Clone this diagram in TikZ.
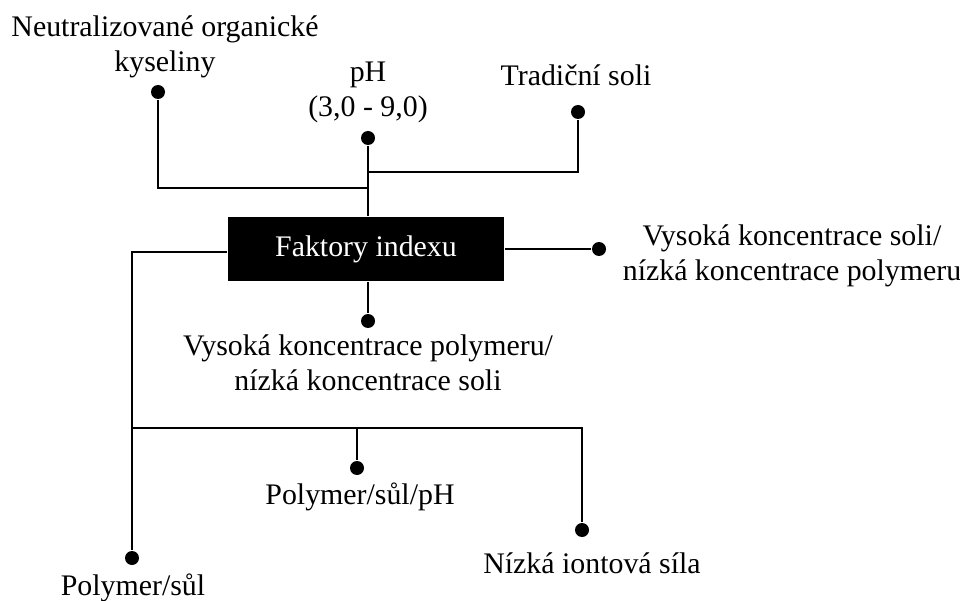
\documentclass[tikz,border=0pt]{standalone}
\usepackage{fontspec}
\setmainfont{Liberation Serif}
\usetikzlibrary{positioning,calc}

\begin{document}
\begin{tikzpicture}[x=0.02cm, y=-0.02cm, line width=1.4pt,
  font=\fontsize{17}{20}\selectfont,
  dot/.style={circle, fill=black, inner sep=0pt, minimum size=14*0.02cm},
  lbl/.style={align=center, inner sep=0pt}]
\useasboundingbox (0,0) rectangle (960,601);
% central box
\node[fill=black, text=white, minimum width=276*0.02cm, minimum height=64*0.02cm, inner sep=0pt] (box) at (366,249) {Faktory indexu};
% dots
\node[dot] (dneu) at (158,92) {};
\node[dot] (dph) at (368,138) {};
\node[dot] (dtrad) at (578,112) {};
\node[dot] (dvks) at (599,249) {};
\node[dot] (dvkp) at (368,321) {};
\node[dot] (dps) at (132,558) {};
\node[dot] (dpsp) at (357,468) {};
\node[dot] (dnis) at (582,530) {};
% labels
\node[lbl] (lneu) at (165,47) {Neutralizované organické\\kyseliny};
\node[lbl] (lph) at (368,92) {pH\\(3,0 - 9,0)};
\node[lbl] (ltrad) at (576,75) {Tradiční soli};
\node[lbl] (lvks) at (792,256) {Vysoká koncentrace soli/\\nízká koncentrace polymeru};
\node[lbl] (lvkp) at (368,363) {Vysoká koncentrace polymeru/\\nízká koncentrace soli};
\node[lbl] (lpsp) at (360,497) {Polymer/sůl/pH};
\node[lbl] (lnis) at (592,563) {Nízká iontová síla};
\node[lbl] (lps) at (133,588) {Polymer/sůl};
% junctions
\coordinate (jl) at (368,188);
\coordinate (jr) at (368,172);
\coordinate (jb) at (132,428);
% connectors
\draw (dph) -- (dph |- box.north);
\draw (dneu) |- (jl);
\draw (dtrad) |- (jr);
\draw (box.east) -- (dvks);
\draw (dvkp) -- (dvkp |- box.south);
\draw ($(box.west)+(0,3)$) -| (dps);
\draw (jb) -| (dnis);
\draw (dpsp) -- (dpsp |- jb);
\end{tikzpicture}
\end{document}
